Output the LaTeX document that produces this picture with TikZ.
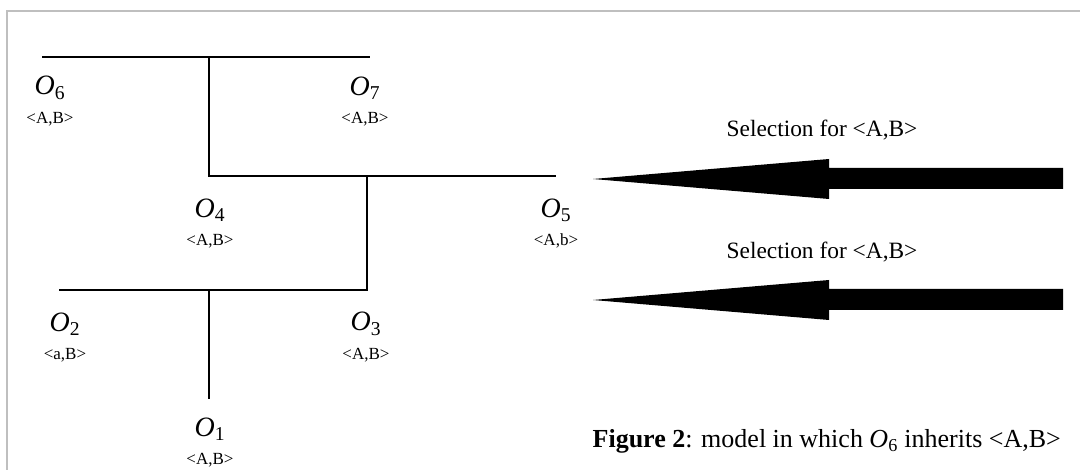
\documentclass[tikz,border=0pt]{standalone}
\usepackage{fontspec}
\setmainfont{Liberation Serif}
\usetikzlibrary{positioning}
\newcommand{\obj}[1]{\textit{O}\textsubscript{#1}}

\begin{document}
\begin{tikzpicture}[x=1pt,y=-1pt,node distance=12pt,
  objlabel/.style={inner sep=0pt,font=\fontsize{28}{31}\selectfont},
  tuple/.style={inner sep=0pt,font=\fontsize{17}{19}\selectfont},
  bar/.style={line width=1.6pt},
  sel/.style={inner sep=0pt,font=\fontsize{23.4}{27}\selectfont}]
\useasboundingbox (0,0) rectangle (1080,470);
\draw[black!25,line width=1.2pt] (7,470) -- (7,11) -- (1080,11);
% tree
\draw[bar] (42,57) -- (370,57);
\draw[bar] (209,57) -- (209,176) -- (556,176);
\draw[bar] (367,176) -- (367,290) -- (59,290);
\draw[bar] (209,290) -- (209,399);
% objects and their traits
\node[objlabel] (o6) at (50,88) {\obj{6}};
\node[tuple,below=of o6] (t6) {<A,B>};
\node[objlabel] (o7) at (365,88) {\obj{7}};
\node[tuple,below=of o7] (t7) {<A,B>};
\node[objlabel] (o4) at (210,210) {\obj{4}};
\node[tuple,below=of o4] (t4) {<A,B>};
\node[objlabel] (o5) at (556,210) {\obj{5}};
\node[tuple,below=of o5] (t5) {<A,b>};
\node[objlabel] (o2) at (65,324) {\obj{2}};
\node[tuple,below=of o2] (t2) {<a,B>};
\node[objlabel] (o3) at (366,324) {\obj{3}};
\node[tuple,below=of o3] (t3) {<A,B>};
\node[objlabel] (o1) at (210,429) {\obj{1}};
\node[tuple,below=of o1] (t1) {<A,B>};
% selection arrows
\foreach \dy in {0,121}
  \fill[shift={(0,\dy)}] (593,179) -- (829,159) -- (829,168) -- (1063,168)
    -- (1063,189) -- (829,189) -- (829,199) -- cycle;
\node[sel] (sel1) at (822,130) {Selection for <A,B>};
\node[sel] (sel2) at (822,252) {Selection for <A,B>};
\node[anchor=base east,inner sep=0pt,font=\fontsize{26}{30}\selectfont] (cap) at (1061,448)
  {\textbf{Figure 2}: model in which \obj{6} inherits <A,B>};
\end{tikzpicture}
\end{document}
